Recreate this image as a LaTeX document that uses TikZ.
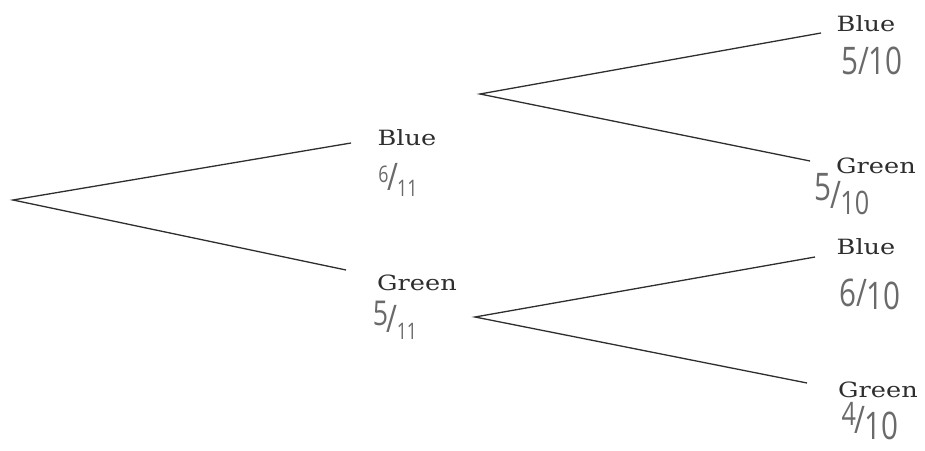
\documentclass[tikz,border=0pt]{standalone}
\usepackage{graphicx}
\usepackage{fontspec}
\setmainfont{DejaVu Serif}
\newfontfamily\labelfont[FakeStretch=1.22]{DejaVu Serif}
\newfontfamily\handfont[FakeStretch=0.78]{Open Sans}
\definecolor{ink}{HTML}{2E2E2E}
\definecolor{pencil}{HTML}{6A6A6A}
% hand-written style fraction: raised numerator, lowered denominator
% #1 numerator scale, #2 numerator, #3 denominator scale, #4 denominator
\newcommand{\hfrac}[4]{\raisebox{0.2em}{\scalebox{#1}{#2}}\kern-0.04em/\kern-0.02em\raisebox{-0.16em}{\scalebox{#3}{#4}}}
\begin{document}
\begin{tikzpicture}[x=1pt,y=1pt,
  branch/.style={draw=ink,line width=1.3pt},
  outcome/.style={inner sep=0pt,text=ink,font=\labelfont\fontsize{21}{21}\selectfont},
  prob/.style={inner sep=0pt,text=pencil,font=\handfont\fontsize{38}{38}\selectfont}]
\useasboundingbox (0,0) rectangle (925,450);
% branching points
\coordinate (r)  at (13,250);
\coordinate (b1) at (351,307);
\coordinate (g1) at (346,180);
\coordinate (r2) at (480,356);
\coordinate (bb) at (821,417);
\coordinate (bg) at (810,289);
\coordinate (r3) at (475,133);
\coordinate (gb) at (815,193);
\coordinate (gg) at (807,67);
% branches
\draw[branch] (b1) -- (r) -- (g1);
\draw[branch] (bb) -- (r2) -- (bg);
\draw[branch] (gb) -- (r3) -- (gg);
% first draw
\node[outcome] (lb1) at (407,312) {Blue};
\node[prob]    (pb1) at (398,270) {\hfrac{0.6}{6}{0.6}{11}};
\node[outcome] (lg1) at (417,167) {Green};
\node[prob]    (pg1) at (395,130) {\hfrac{0.9}{5}{0.6}{11}};
% second draw after blue
\node[outcome] (lbb) at (866,426) {Blue};
\node[prob]    (pbb) at (872,389) {5/10};
\node[outcome] (lbg) at (876,284) {Green};
\node[prob]    (pbg) at (842,256) {\hfrac{1}{5}{0.85}{10}};
% second draw after green
\node[outcome] (lgb) at (866,203) {Blue};
\node[prob]    (pgb) at (870,156) {6/\raisebox{-0.08em}{10}};
\node[outcome] (lgg) at (878,60)  {Green};
\node[prob]    (pgg) at (870,29)  {\hfrac{0.85}{4}{1}{10}};
\end{tikzpicture}
\end{document}
